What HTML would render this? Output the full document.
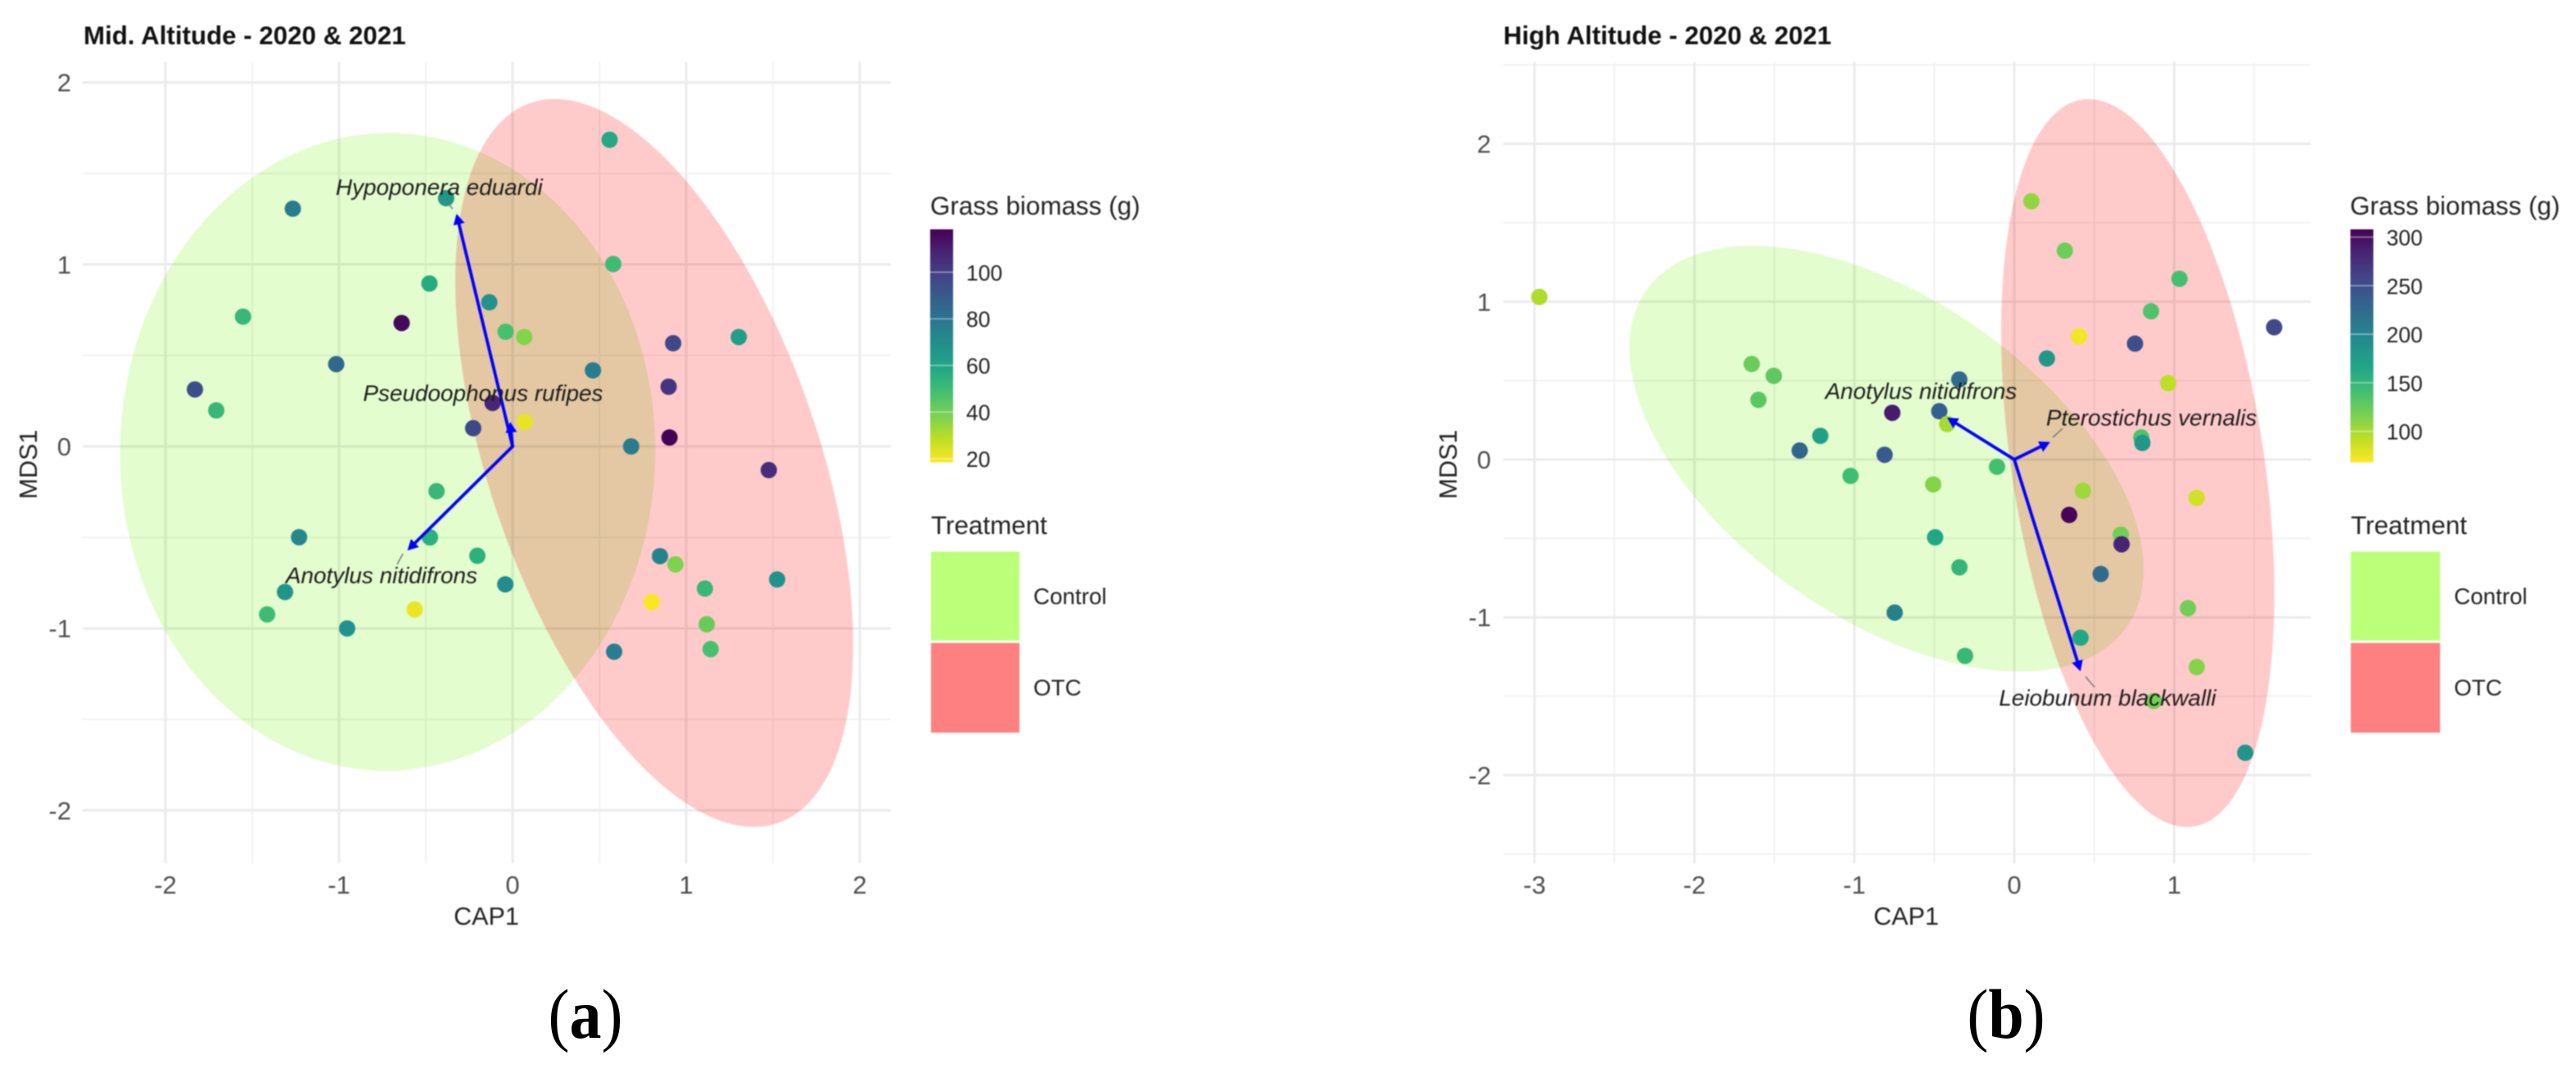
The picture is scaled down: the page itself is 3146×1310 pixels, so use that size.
<!DOCTYPE html>
<html lang="en">
<head>
<meta charset="utf-8">
<title>Mid and High Altitude ordination plots</title>
<style>
html,body{margin:0;padding:0;background:#fff;width:3146px;height:1310px;overflow:hidden;position:relative}
svg{display:block;position:absolute;left:0;top:0}
#figure{filter:blur(.9px)}
text{font-family:"Liberation Sans",Arial,sans-serif}
.ttl{font-size:31.3px;font-weight:700;fill:#111}
.axt{font-size:30.5px;fill:#222}
.leg{font-size:31.4px;fill:#222}
.lab{font-size:27.8px;fill:#222}
.tick{font-size:31px;fill:#4d4d4d}
.cbt{font-size:26.5px;fill:#222}
.sp{font-size:27.9px;font-style:italic;fill:#1c1c1c}
.cap{font-family:"Liberation Serif",serif;font-size:78px;fill:#000}
</style>
</head>
<body>
<svg id="figure" xmlns="http://www.w3.org/2000/svg" width="3146" height="1310" viewBox="0 0 3146 1310">
  <rect width="3146" height="1310" fill="#fff"/>
  <defs>
    <linearGradient id="cbGradient" x1="0" y1="0" x2="0" y2="1"></linearGradient>
  </defs>

  <g id="panel-a">
    <g id="plot-a"></g>
    <text class="ttl" x="102" y="54">Mid. Altitude - 2020 &amp; 2021</text>
    <text class="axt" x="594" y="1129" text-anchor="middle">CAP1</text>
    <text class="axt" transform="translate(45,567) rotate(-90)" text-anchor="middle">MDS1</text>
    <text class="leg" x="1136" y="262">Grass biomass (g)</text>
    <g id="cb-a"></g>
    <text class="leg" x="1137" y="652">Treatment</text>
    <rect x="1137" y="673.5" width="108" height="108.5" fill="#bcff78"/>
    <rect x="1137" y="785" width="108" height="109.5" fill="#ff8080"/>
    <text class="lab" x="1262" y="737.5">Control</text>
    <text class="lab" x="1262" y="849">OTC</text>
  </g>

  <g id="panel-b">
    <g id="plot-b"></g>
    <text class="ttl" x="1836" y="54">High Altitude - 2020 &amp; 2021</text>
    <text class="axt" x="2328" y="1129" text-anchor="middle">CAP1</text>
    <text class="axt" transform="translate(1779,567) rotate(-90)" text-anchor="middle">MDS1</text>
    <text class="leg" x="2870" y="262">Grass biomass (g)</text>
    <g id="cb-b"></g>
    <text class="leg" x="2871" y="652">Treatment</text>
    <rect x="2871" y="673.5" width="109" height="108.5" fill="#bcff78"/>
    <rect x="2871" y="785" width="109" height="109.5" fill="#ff8080"/>
    <text class="lab" x="2997" y="737.5">Control</text>
    <text class="lab" x="2997" y="849">OTC</text>
  </g>
</svg>
<svg id="captions" xmlns="http://www.w3.org/2000/svg" width="3146" height="1310" viewBox="0 0 3146 1310">
  <text class="cap" transform="translate(715,1267) scale(1,1.1)" text-anchor="middle">(<tspan font-weight="700">a</tspan>)</text>
  <text class="cap" transform="translate(2450,1267) scale(1,1.1)" text-anchor="middle">(<tspan font-weight="700">b</tspan>)</text>
</svg>

<script>
/* ---------- Panel (a): Mid. Altitude ---------- */
const midCap1 = [-1.266,-0.383,0.559,0.58,-0.479,-0.134,-1.553,-0.639,-0.04,0.067,-1.016,0.463,-1.83,-1.707,-0.115,0.07,-0.227,-0.438,0.925,1.303,0.899,0.683,0.904,1.476,-1.23,-0.476,-0.203,-1.311,-0.042,-1.414,-0.953,-0.564,0.849,0.938,1.524,1.108,0.802,1.118,1.141,0.585];
const midMds1 = [1.306,1.364,1.685,1.002,0.895,0.792,0.713,0.678,0.63,0.601,0.452,0.418,0.313,0.198,0.239,0.135,0.1,-0.246,0.567,0.601,0.328,0,0.049,-0.13,-0.499,-0.5,-0.601,-0.8,-0.758,-0.923,-1,-0.896,-0.603,-0.648,-0.731,-0.781,-0.855,-0.977,-1.114,-1.128];
const midBiomass = [77,66,58,50,57,68,52,116,48,37,85,76,95,52,108,22,97,52,97,63,103,77,118,106,72,55,55,67,70,50,68,21,74,38,68,52,19,42,48,76];
const midXTicks = [-2,-1,0,1,2];
const midXMinor = [-1.5,-0.5,0.5,1.5];
const midYTicks = [-2,-1,0,1,2];
const midYMinor = [-1.5,-0.5,0.5,1.5];
const midBiomassTicks = [20,40,60,80,100];
const midBiomassRange = [18.4,118.4];
const midSpecies = ["Hypoponera eduardi","Pseudoophonus rufipes","Anotylus nitidifrons"];
const midArrowCap1 = [-0.323,-0.014,-0.606];
const midArrowMds1 = [1.278,0.135,-0.572];
const midLabelCap1 = [-0.423,-0.17,-0.755];
const midLabelMds1 = [1.427,0.294,-0.707];
const midLeaderCap1 = [[-0.381,-0.346],null,[-0.632,-0.665]];
const midLeaderMds1 = [[1.35,1.305],null,[-0.59,-0.648]];
/* ellipse summaries in data units: centre, half-extent, correlation */
const midControlEllipse = [-0.72,-0.03,1.542,1.752,0.005];
const midOtcEllipse = [0.816,-0.091,1.146,2.0,-0.5];

/* ---------- Panel (b): High Altitude ---------- */
const highCap1 = [-2.97,-1.642,-1.504,-1.6,-0.344,-0.763,-0.469,-0.42,-1.213,-1.342,-0.811,-1.024,-0.507,0.107,0.316,1.033,0.855,0.405,0.755,1.625,0.204,0.962,0.794,0.801,-0.108,0.429,1.14,0.343,-0.495,-0.343,-0.748,-0.308,0.666,0.671,0.54,1.086,0.414,1.141,0.873,1.444];
const highMds1 = [1.03,0.605,0.53,0.378,0.507,0.296,0.306,0.225,0.15,0.057,0.03,-0.104,-0.158,1.636,1.323,1.145,0.939,0.78,0.734,0.838,0.64,0.484,0.14,0.105,-0.046,-0.198,-0.243,-0.351,-0.493,-0.683,-0.97,-1.244,-0.476,-0.537,-0.725,-0.942,-1.129,-1.315,-1.53,-1.858];
const highBiomass = [97,123,128,130,225,290,235,100,172,228,240,142,112,108,122,140,135,72,250,255,182,92,135,183,140,103,85,305,165,150,205,148,120,285,225,120,165,112,118,185];
const highXTicks = [-3,-2,-1,0,1];
const highXMinor = [-2.5,-1.5,-0.5,0.5,1.5];
const highYTicks = [-2,-1,0,1,2];
const highYMinor = [-2.5,-1.5,-0.5,0.5,1.5,2.5];
const highBiomassTicks = [100,150,200,250,300];
const highBiomassRange = [68,308];
const highSpecies = ["Anotylus nitidifrons","Pterostichus vernalis","Leiobunum blackwalli"];
const highArrowCap1 = [-0.42,0.224,0.414];
const highArrowMds1 = [0.265,0.111,-1.342];
const highLabelCap1 = [-0.583,0.858,0.583];
const highLabelMds1 = [0.437,0.268,-1.507];
const highLeaderCap1 = [null,[0.241,0.302],[0.445,0.502]];
const highLeaderMds1 = [null,[0.14,0.197],[-1.375,-1.443]];
const highControlEllipse = [-0.799,0.005,1.608,1.349,-0.52];
const highOtcEllipse = [0.772,-0.0225,0.854,2.306,-0.36];

/* viridis reference colours (dark to light) */
const viridisStops = ["#440154","#482475","#414487","#355f8d","#2a788e","#21918c","#22a884","#44bf70","#7ad151","#bddf26","#fde725"];

const SVGNS = "http://www.w3.org/2000/svg";
function make(tag, props){
  const el = document.createElementNS(SVGNS, tag);
  for(const k in props){ el.setAttribute(k, props[k]); }
  return el;
}
function hexRgb(h){ return [1,3,5].map(i=>parseInt(h.substr(i,2),16)); }
function viridis(t){
  t = Math.max(0,Math.min(1,t));
  const p = t*(viridisStops.length-1), i = Math.min(Math.floor(p),viridisStops.length-2), f = p-i;
  const a = hexRgb(viridisStops[i]), b = hexRgb(viridisStops[i+1]);
  return "rgb("+a.map((v,j)=>Math.round(v+(b[j]-v)*f)).join(",")+")";
}
function linear(d0,d1,r0,r1){ return v => r0+(v-d0)*(r1-r0)/(d1-d0); }

function ellipsePath(params, sx, sy){
  const [cx,cy,ax,ay,rho] = params, d = Math.acos(rho);
  let s = "";
  for(let i=0;i<180;i++){
    const t = i/180*2*Math.PI;
    s += (i?"L":"M")+sx(cx+ax*Math.cos(t)).toFixed(1)+" "+sy(cy+ay*Math.cos(t+d)).toFixed(1);
  }
  return s+"Z";
}

function drawPlot(root, c){
  const sx = c.sx, sy = c.sy, box = c.box;

  c.yMinor.forEach(v=>{
    const l = make("line",{x1:box[0],x2:box[1],y1:sy(v),y2:sy(v),stroke:"#f2f2f2","stroke-width":2});
    
    
    root.appendChild(l);
  });
  c.xMinor.forEach(v=>{
    const l = make("line",{x1:sx(v),x2:sx(v),y1:box[2],y2:box[3],stroke:"#f2f2f2","stroke-width":2});
    
    
    root.appendChild(l);
  });
  c.yTicks.forEach(v=>{
    const l = make("line",{x1:box[0],x2:box[1],y1:sy(v),y2:sy(v),stroke:"#ebebeb","stroke-width":3});
    
    
    root.appendChild(l);
    const t = make("text",{x:c.yLabelX,y:sy(v)+11,"text-anchor":"end",class:"tick"});
    
    
    t.textContent = v;
    root.appendChild(t);
  });
  c.xTicks.forEach(v=>{
    const l = make("line",{x1:sx(v),x2:sx(v),y1:box[2],y2:box[3],stroke:"#ebebeb","stroke-width":3});
    
    
    root.appendChild(l);
    const t = make("text",{x:sx(v),y:1091,"text-anchor":"middle",class:"tick"});
    
    
    t.textContent = v;
    root.appendChild(t);
  });

  const eg = make("path",{d:ellipsePath(c.controlEllipse,sx,sy),fill:"#e3fdce",style:"mix-blend-mode:multiply"});
  
  
  root.appendChild(eg);
  const ep = make("path",{d:ellipsePath(c.otcEllipse,sx,sy),fill:"#ffcaca",style:"mix-blend-mode:multiply"});
  
  
  root.appendChild(ep);

  const colour = v => viridis((c.range[1]-v)/(c.range[1]-c.range[0]));
  c.cap1.forEach((x,i)=>{
    const p = make("circle",{cx:sx(x),cy:sy(c.mds1[i]),r:10,fill:colour(c.biomass[i])});
    
    
    root.appendChild(p);
  });

  c.species.forEach((name,i)=>{
    const x1 = sx(0), y1 = sy(0), x2 = sx(c.arrowCap1[i]), y2 = sy(c.arrowMds1[i]);
    const ang = Math.atan2(y2-y1,x2-x1), len = 13, w = 7;
    const bx = x2-len*Math.cos(ang), by = y2-len*Math.sin(ang);
    const shaft = make("line",{x1:x1,y1:y1,x2:bx,y2:by,stroke:"#0000ff","stroke-width":3.8,"stroke-linecap":"round"});
    
    
    root.appendChild(shaft);
    const head = make("polygon",{points:[x2,y2,bx-w*Math.sin(ang),by+w*Math.cos(ang),bx+w*Math.sin(ang),by-w*Math.cos(ang)].join(" "),fill:"#0000ff"});
    
    
    root.appendChild(head);
    if(c.leaderCap1[i]){
      const ln = make("line",{x1:sx(c.leaderCap1[i][0]),y1:sy(c.leaderMds1[i][0]),x2:sx(c.leaderCap1[i][1]),y2:sy(c.leaderMds1[i][1]),stroke:"#777","stroke-width":1.5});
      
      
      root.appendChild(ln);
    }
    const tx = make("text",{x:sx(c.labelCap1[i]),y:sy(c.labelMds1[i])+10,"text-anchor":"middle",class:"sp"});
    
    
    tx.textContent = name;
    root.appendChild(tx);
  });
}

function drawColorbar(root, c){
  const top = 280, bottom = 564.5;
  const sv = linear(c.range[0],c.range[1],bottom,top);
  const bar = make("rect",{x:c.x,y:top,width:c.w,height:bottom-top,fill:"url(#cbGradient)"});
  
  
  root.appendChild(bar);
  c.ticks.forEach(v=>{
    const m = make("line",{x1:c.x,x2:c.x+c.w,y1:sv(v),y2:sv(v),stroke:"#fff","stroke-opacity":.45,"stroke-width":1.6});
    
    
    root.appendChild(m);
    const t = make("text",{x:c.labelX,y:sv(v)+10,class:"cbt"});
    
    
    t.textContent = v;
    root.appendChild(t);
  });
}

const grad = document.getElementById("cbGradient");
viridisStops.forEach((col,i)=>{
  const s = make("stop",{offset:(i/(viridisStops.length-1)),"stop-color":col});
  grad.appendChild(s);
});

drawPlot(document.getElementById("plot-a"),{
  sx:linear(0,1,626,838), sy:linear(0,1,545,322.8), box:[101,1088,75.5,1054], yLabelX:87,
  xTicks:midXTicks, xMinor:midXMinor, yTicks:midYTicks, yMinor:midYMinor,
  cap1:midCap1, mds1:midMds1, biomass:midBiomass, range:midBiomassRange,
  controlEllipse:midControlEllipse, otcEllipse:midOtcEllipse,
  species:midSpecies, arrowCap1:midArrowCap1, arrowMds1:midArrowMds1,
  labelCap1:midLabelCap1, labelMds1:midLabelMds1, leaderCap1:midLeaderCap1, leaderMds1:midLeaderMds1
});
drawPlot(document.getElementById("plot-b"),{
  sx:linear(0,1,2460,2655.3), sy:linear(0,1,561,368.3), box:[1836,2822.5,75.5,1054], yLabelX:1821,
  xTicks:highXTicks, xMinor:highXMinor, yTicks:highYTicks, yMinor:highYMinor,
  cap1:highCap1, mds1:highMds1, biomass:highBiomass, range:highBiomassRange,
  controlEllipse:highControlEllipse, otcEllipse:highOtcEllipse,
  species:highSpecies, arrowCap1:highArrowCap1, arrowMds1:highArrowMds1,
  labelCap1:highLabelCap1, labelMds1:highLabelMds1, leaderCap1:highLeaderCap1, leaderMds1:highLeaderMds1
});
drawColorbar(document.getElementById("cb-a"),{x:1136,w:28,labelX:1180,ticks:midBiomassTicks,range:midBiomassRange});
drawColorbar(document.getElementById("cb-b"),{x:2870.5,w:28,labelX:2914.5,ticks:highBiomassTicks,range:highBiomassRange});
</script>
</body>
</html>
